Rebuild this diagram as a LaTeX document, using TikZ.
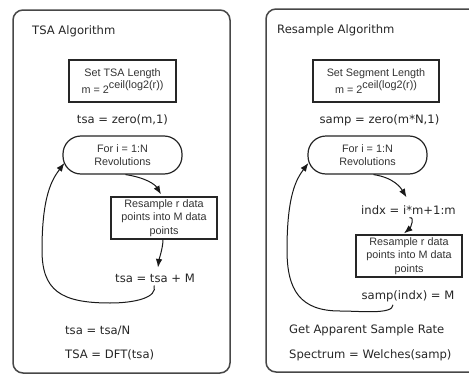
\documentclass[tikz,border=0pt]{standalone}
\usepackage{fontspec}
\setmainfont{Liberation Sans}
\newfontfamily\lgfont{DejaVu Sans}
\usetikzlibrary{arrows.meta}
\begin{document}
\begin{tikzpicture}[x=1pt,y=-1pt,
  panel/.style={draw=black!72, line width=1.5pt, rounded corners=10pt},
  boxn/.style={draw=black!85, line width=1.3pt, text=black!80, align=center,
    inner sep=0pt, minimum width=106pt, minimum height=42pt,
    font=\fontsize{10.8}{13.5}\selectfont},
  loopn/.style={draw=black!85, line width=1.2pt, text=black!80, align=center,
    inner sep=0pt, minimum width=119pt, minimum height=38pt, rounded corners=18pt,
    font=\fontsize{10.8}{13.5}\selectfont},
  lbl/.style={inner sep=0pt, text=black!85, font=\lgfont\fontsize{11.6}{14}\selectfont},
  arr/.style={-{Latex[length=8.5pt,width=6.5pt]}, line width=1pt, black!90}
]
\useasboundingbox (0,0) rectangle (469,375);
\clip (0,0) rectangle (469,375);
\fill[white] (0,0) rectangle (469,375);

% panels
\draw[panel] (13,10) rectangle (230,373);
\draw[panel] (266,9) rectangle (490,372);

% ---------- left panel ----------
\node[lbl, anchor=west] (titL) at (32,31) {TSA Algorithm};
\node[boxn, minimum width=107pt] (setL) at (122.5,81) {Set TSA Length\\[1pt]m = 2\raisebox{5pt}{ceil(log2(r))}};
\node[lbl] (tsaL) at (122.5,120) {tsa = zero(m,1)};
\node[loopn] (forL) at (122.5,155) {For i = 1:N\\Revolutions};
\node[boxn] (resL) at (164,218) {Resample r data\\points into M data\\points};
\node[lbl] (addL) at (155,278) {tsa = tsa + M};
\node[lbl, anchor=west] (divL) at (65,331) {tsa = tsa/N};
\node[lbl, anchor=west] (dftL) at (65,355) {TSA = DFT(tsa)};

\draw[arr] ([xshift=3pt]forL.south) .. controls +(20,3) and +(-6,-10) .. ([xshift=-3pt,yshift=2pt]resL.north);
\draw[arr] ([xshift=-1pt]resL.south) .. controls +(0,8) and +(1,-8) .. ([xshift=3pt,yshift=6pt]addL.north);
\coordinate (lbot) at (110,303);
\coordinate (lleft) at (42,250);
\draw[arr] ([xshift=-1pt,yshift=-3pt]addL.south) .. controls +(4,12) and +(25,0) .. (lbot)
  .. controls +(-50,0) and +(0,40) .. (lleft)
  .. controls +(0,-55) and +(-12,16) .. ([xshift=2pt,yshift=-8pt]forL.west);

% ---------- right panel ----------
\node[lbl, anchor=west] (titR) at (277,30) {Resample Algorithm};
\node[boxn, minimum width=126pt] (setR) at (376,81) {Set Segment Length\\[1pt]m = 2\raisebox{5pt}{ceil(log2(r))}};
\node[lbl] (sampR) at (379.5,120) {samp = zero(m*N,1)};
\node[loopn] (forR) at (367.5,155) {For i = 1:N\\Revolutions};
\node[lbl] (indxR) at (408.5,210) {indx = i*m+1:m};
\node[boxn] (resR) at (409,256) {Resample r data\\points into M data\\points};
\node[lbl] (sampI) at (408,296) {samp(indx) = M};
\node[lbl, anchor=west] (getR) at (289,330) {Get Apparent Sample Rate};
\node[lbl, anchor=west] (specR) at (289,355) {Spectrum = Welches(samp)};

\draw[arr] ([xshift=6pt]forR.south) .. controls +(20,3) and +(-6,-10) .. ([xshift=-2pt,yshift=8pt]indxR.north);
\draw[arr] ([xshift=1pt,yshift=-3pt]indxR.south) .. controls +(6,-1) and +(6,-5) .. ([xshift=-5pt,yshift=1pt]resR.north);
\coordinate (rbot) at (340,311);
\coordinate (rleft) at (287,250);
\draw[arr] ([xshift=-15pt,yshift=-3pt]sampI.south) .. controls +(0,10) and +(20,0) .. (rbot)
  .. controls +(-40,0) and +(0,40) .. (rleft)
  .. controls +(0,-55) and +(-12,16) .. ([xshift=1pt,yshift=-8pt]forR.west);
\end{tikzpicture}
\end{document}
